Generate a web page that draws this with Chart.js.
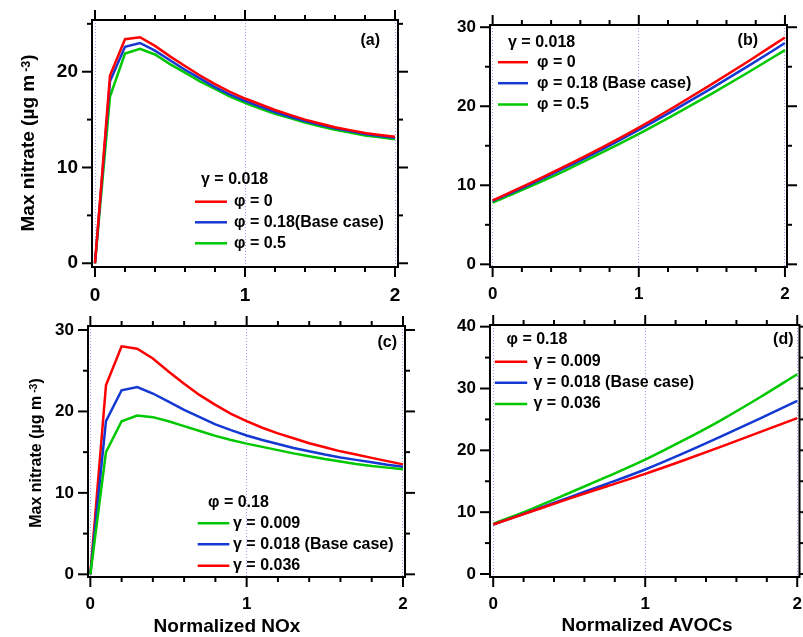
<!DOCTYPE html>
<html>
<head>
<meta charset="utf-8">
<script src="https://cdn.jsdelivr.net/npm/chart.js@4.4.0/dist/chart.umd.min.js"></script>
<style>
  html, body { margin: 0; padding: 0; background: #fff; width: 803px; height: 637px; overflow: hidden; position: relative; }
  canvas { position: absolute; }
  .ttl { position: absolute; font-family: "Liberation Sans", Arial, sans-serif; font-weight: bold; color: #000; white-space: nowrap; line-height: 1; }
  .ttl sup { font-size: 0.65em; position: relative; top: -0.35em; vertical-align: baseline; margin-left: 3px; }
  .rot { transform: translate(-50%, -50%) rotate(-90deg); }
  .hor { transform: translate(-50%, -50%); }
</style>
</head>
<body>
<canvas id="panelA"></canvas>
<canvas id="panelB"></canvas>
<canvas id="panelC"></canvas>
<canvas id="panelD"></canvas>

<div class="ttl rot" style="left:27px; top:143px; font-size:19px;">Max nitrate (µg m<sup>-3</sup>)</div>
<div class="ttl rot" style="left:36px; top:453px; font-size:16px;">Max nitrate (µg m<sup>-3</sup>)</div>
<div class="ttl hor" style="left:227px; top:625px; font-size:19px;">Normalized NOx</div>
<div class="ttl hor" style="left:647px; top:624px; font-size:19px;">Normalized AVOCs</div>

<script>
const FONT = '"Liberation Sans", Arial, Helvetica, sans-serif';
Chart.defaults.font.family = FONT;
Chart.defaults.color = '#000';

const RED = '#ff0000';
const BLUE = '#1438d2';
const GREEN = '#00c800';

// x values
const noxLevels = [0, 0.1, 0.2, 0.3, 0.4, 0.5, 0.6, 0.7, 0.8, 0.9, 1.0, 1.1, 1.2, 1.3, 1.4, 1.5, 1.6, 1.7, 1.8, 1.9, 2.0];
const avocLevels = [0, 0.25, 0.5, 0.75, 1.0, 1.25, 1.5, 1.75, 2.0];

// (a) NOx, gamma = 0.018, varying phi
const noxPhi0 = [0, 19.6, 23.4, 23.6, 22.7, 21.6, 20.6, 19.6, 18.7, 17.9, 17.2, 16.6, 16.0, 15.5, 15.0, 14.6, 14.2, 13.9, 13.6, 13.4, 13.2];
const noxPhiBase = [0, 19.0, 22.6, 23.0, 22.2, 21.2, 20.2, 19.3, 18.4, 17.6, 16.95, 16.35, 15.8, 15.3, 14.85, 14.45, 14.1, 13.8, 13.5, 13.3, 13.1];
const noxPhi05 = [0, 17.4, 21.9, 22.4, 21.8, 20.8, 19.9, 19.0, 18.2, 17.4, 16.75, 16.15, 15.6, 15.15, 14.7, 14.3, 13.95, 13.65, 13.35, 13.15, 12.95];

// (b) AVOCs, gamma = 0.018, varying phi
const avocPhi0 = [8.1, 10.2, 12.45, 14.8, 17.3, 20.0, 22.8, 25.7, 28.7];
const avocPhiBase = [8.0, 10.05, 12.25, 14.55, 17.0, 19.6, 22.3, 25.1, 28.0];
const avocPhi05 = [7.8, 9.8, 11.9, 14.15, 16.5, 19.0, 21.6, 24.3, 27.1];

// (c) NOx, phi = 0.18, varying gamma
const noxGamma009 = [0, 15.0, 18.8, 19.5, 19.3, 18.8, 18.2, 17.6, 17.0, 16.5, 16.05, 15.65, 15.25, 14.85, 14.5, 14.15, 13.85, 13.55, 13.3, 13.1, 12.9];
const noxGammaBase = [0, 18.8, 22.6, 23.0, 22.2, 21.2, 20.2, 19.3, 18.4, 17.7, 17.05, 16.5, 16.0, 15.5, 15.1, 14.7, 14.35, 14.05, 13.75, 13.45, 13.2];
const noxGamma036 = [0, 23.2, 28.0, 27.7, 26.5, 24.9, 23.4, 22.0, 20.8, 19.7, 18.8, 18.0, 17.3, 16.7, 16.1, 15.6, 15.1, 14.7, 14.3, 13.9, 13.5];

// (d) AVOCs, phi = 0.18, varying gamma
const avocGamma009 = [8.0, 10.1, 12.2, 14.2, 16.2, 18.35, 20.6, 22.9, 25.2];
const avocGammaBase = [8.0, 10.15, 12.4, 14.6, 16.9, 19.5, 22.25, 25.1, 28.0];
const avocGamma036 = [8.1, 10.5, 13.1, 15.75, 18.5, 21.6, 24.9, 28.5, 32.3];

// tick positions
const xMajor = [0, 1, 2];
const xMinor = [0.2, 0.4, 0.6, 0.8, 1.2, 1.4, 1.6, 1.8];
const yMajor20 = [0, 10, 20];
const yMajor30 = [0, 10, 20, 30];
const yMajor40 = [0, 10, 20, 30, 40];
const yMinor25 = [5, 15, 25];
const yMinor35 = [5, 15, 25, 35];

const pts = (xs, ys) => xs.map((x, i) => ({ x, y: ys[i] }));

// Igor-like frame with outward ticks on all four sides, plus inline legend
const igorFrame = {
  id: 'igorFrame',
  afterDraw(chart, args, o) {
    const { ctx, chartArea: a } = chart;
    const sx = chart.scales.x;
    const sy = chart.scales.y;
    ctx.save();
    ctx.strokeStyle = '#000';
    ctx.lineWidth = 2;
    ctx.strokeRect(a.left, a.top, a.right - a.left, a.bottom - a.top);
    const seg = (x0, y0, x1, y1) => {
      ctx.beginPath();
      ctx.moveTo(x0, y0);
      ctx.lineTo(x1, y1);
      ctx.stroke();
    };
    const xt = (vals, len) => vals.forEach((v) => {
      const p = sx.getPixelForValue(v);
      seg(p, a.bottom, p, a.bottom + len);
      seg(p, a.top, p, a.top - len);
    });
    const yt = (vals, len) => vals.forEach((v) => {
      const p = sy.getPixelForValue(v);
      seg(a.left, p, a.left - len, p);
      seg(a.right, p, a.right + len, p);
    });
    xt(o.xMajor, 10);
    xt(o.xMinor, 5);
    yt(o.yMajor, 10);
    yt(o.yMinor, 5);

    // legend
    const L = o.legend;
    const ox = o.ox;
    const oy = o.oy;
    ctx.font = 'bold 16px ' + FONT;
    ctx.fillStyle = '#000';
    ctx.textBaseline = 'middle';
    ctx.textAlign = 'left';
    ctx.fillText(L.title, L.titleX - ox, L.titleY - oy);
    chart.data.datasets.forEach((ds, i) => {
      const y = L.rowY[i] - oy;
      ctx.strokeStyle = ds.borderColor;
      ctx.lineWidth = 2.5;
      seg(L.lineX0 - ox, y, L.lineX1 - ox, y);
      ctx.fillText(ds.label, L.textX - ox, y);
    });
    ctx.textAlign = 'right';
    ctx.fillText(L.tag, L.tagX - ox, L.tagY - oy);
    ctx.restore();
  },
};

function panel(id, o) {
  const el = document.getElementById(id);
  const [left, top, right, bottom] = o.area;
  const ox = left - 90;
  const oy = top - 50;
  el.width = Math.round(right - left + 140);
  el.height = Math.round(bottom - top + 110);
  el.style.left = ox + 'px';
  el.style.top = oy + 'px';
  const tickFont = { size: o.tickSize, weight: 'bold', family: FONT };

  return new Chart(el, {
    type: 'line',
    data: {
      datasets: o.series.map((s) => ({
        label: s.label,
        data: pts(o.xs, s.ys),
        borderColor: s.color,
        backgroundColor: s.color,
        borderWidth: 2.5,
        pointRadius: 0,
        fill: false,
        tension: 0,
        cubicInterpolationMode: o.smooth ? 'monotone' : 'default',
      })),
    },
    options: {
      responsive: false,
      animation: false,
      events: [],
      layout: { padding: { top: top - oy, right: el.width - (right - ox), left: 0, bottom: 0 } },
      plugins: {
        legend: { display: false },
        tooltip: { enabled: false },
        igorFrame: {
          xMajor, xMinor, yMajor: o.yMajor, yMinor: o.yMinor, legend: o.legend, ox, oy,
        },
      },
      scales: {
        x: {
          type: 'linear',
          min: o.xRange[0],
          max: o.xRange[1],
          afterBuildTicks: (s) => { s.ticks = xMajor.map((v) => ({ value: v })); },
          afterFit: (s) => { s.height = 60; },
          grid: { color: '#9c9cff', lineWidth: 1, drawTicks: false },
          border: { display: false, dash: [1, 2] },
          ticks: { font: tickFont, color: '#000', padding: 17, maxRotation: 0 },
        },
        y: {
          type: 'linear',
          min: o.yRange[0],
          max: o.yRange[1],
          afterBuildTicks: (s) => { s.ticks = o.yMajor.map((v) => ({ value: v })); },
          afterFit: (s) => { s.width = 90; },
          grid: { display: false, drawTicks: false },
          border: { display: false },
          ticks: { font: tickFont, color: '#000', padding: 14 },
        },
      },
    },
    plugins: [igorFrame],
  });
}

panel('panelA', {
  area: [92, 20, 398, 267],
  xRange: [-0.02, 2.02],
  yRange: [-0.39, 25.4],
  yMajor: yMajor20,
  yMinor: yMinor25,
  tickSize: 19,
  xs: noxLevels,
  series: [
    { label: 'φ = 0', ys: noxPhi0, color: RED },
    { label: 'φ = 0.18(Base case)', ys: noxPhiBase, color: BLUE },
    { label: 'φ = 0.5', ys: noxPhi05, color: GREEN },
  ],
  legend: {
    title: 'γ = 0.018', titleX: 201, titleY: 180,
    lineX0: 195, lineX1: 227, textX: 234, rowY: [201.7, 222.3, 243.3],
    tag: '(a)', tagX: 380, tagY: 40.7,
  },
});

panel('panelB', {
  area: [490, 24.5, 787, 266],
  xRange: [-0.018, 2.014],
  yRange: [-0.34, 30.28],
  yMajor: yMajor30,
  yMinor: yMinor25,
  tickSize: 17,
  smooth: true,
  xs: avocLevels,
  series: [
    { label: 'φ = 0', ys: avocPhi0, color: RED },
    { label: 'φ = 0.18 (Base case)', ys: avocPhiBase, color: BLUE },
    { label: 'φ = 0.5', ys: avocPhi05, color: GREEN },
  ],
  legend: {
    title: 'γ = 0.018', titleX: 508, titleY: 41.7,
    lineX0: 498, lineX1: 528, textX: 537, rowY: [61.7, 82.7, 104],
    tag: '(b)', tagX: 758, tagY: 40,
  },
});

panel('panelC', {
  area: [88, 326, 405, 577],
  xRange: [-0.015, 2.013],
  yRange: [-0.33, 30.49],
  yMajor: yMajor30,
  yMinor: yMinor25,
  tickSize: 17,
  xs: noxLevels,
  series: [
    { label: 'γ = 0.009', ys: noxGamma009, color: GREEN },
    { label: 'γ = 0.018 (Base case)', ys: noxGammaBase, color: BLUE },
    { label: 'γ = 0.036', ys: noxGamma036, color: RED },
  ],
  legend: {
    title: 'φ = 0.18', titleX: 208, titleY: 502.3,
    lineX0: 197.7, lineX1: 229.3, textX: 233, rowY: [523.3, 544.3, 565.7],
    tag: '(c)', tagX: 397, tagY: 342.7,
  },
});

panel('panelD', {
  area: [489.5, 325, 799, 576.5],
  xRange: [-0.021, 2.015],
  yRange: [-0.485, 40.27],
  yMajor: yMajor40,
  yMinor: yMinor35,
  tickSize: 17,
  smooth: true,
  xs: avocLevels,
  series: [
    { label: 'γ = 0.009', ys: avocGamma009, color: RED },
    { label: 'γ = 0.018 (Base case)', ys: avocGammaBase, color: BLUE },
    { label: 'γ = 0.036', ys: avocGamma036, color: GREEN },
  ],
  legend: {
    title: 'φ = 0.18', titleX: 506, titleY: 339.3,
    lineX0: 494.3, lineX1: 526.7, textX: 533, rowY: [361.7, 382.7, 404],
    tag: '(d)', tagX: 793, tagY: 340,
  },
});
</script>
</body>
</html>
